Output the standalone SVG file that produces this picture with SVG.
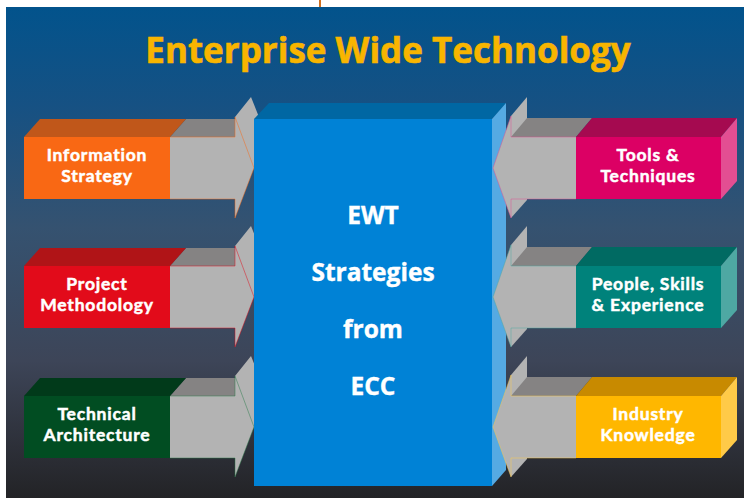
<svg xmlns="http://www.w3.org/2000/svg" width="744" height="498" viewBox="0 0 744 498">
<defs>
<linearGradient id="bg" x1="0" y1="0" x2="0" y2="1">
<stop offset="0" stop-color="#02538c"/>
<stop offset="0.2" stop-color="#165183"/>
<stop offset="0.45" stop-color="#355270"/>
<stop offset="0.72" stop-color="#3d4558"/>
<stop offset="1" stop-color="#232326"/>
</linearGradient>
</defs>
<style>
.title{font-family:"Open Sans","DejaVu Sans",sans-serif;font-weight:700;font-size:35px;fill:#f8b500;stroke:#f8b500;stroke-width:0.6}
.lbl{font-family:Lato,"Open Sans",sans-serif;font-weight:700;font-size:17.5px;letter-spacing:0.8px;fill:#ffffff;stroke:#ffffff;stroke-width:0.5;text-anchor:middle}
.ctr{font-family:"Open Sans","DejaVu Sans",sans-serif;font-weight:700;font-size:24.5px;fill:#ffffff;stroke:#ffffff;stroke-width:0.4;text-anchor:middle}
.gf{fill:#b3b3b3}
.gt{fill:#858383}
.edge{fill:none;stroke-width:0.8;opacity:0.6}
</style>
<rect x="0" y="0" width="744" height="498" fill="#ffffff"/>
<rect x="6" y="7" width="738" height="491" fill="url(#bg)"/>
<line x1="320" y1="0" x2="320" y2="7" stroke="#d07020" stroke-width="2"/>
<text class="title" x="388" y="63" text-anchor="middle">Enterprise Wide Technology</text>

<g id="connectors">
<g id="arrow-info">
<polygon class="gt" points="170,137 186,119 240,119 235,137"/>
<rect class="gf" x="170" y="137" width="66" height="62"/>
<polygon class="gf" points="235,117 251,97 272,150 254,168 235,218"/>
<polyline class="edge" stroke="#f96814" points="170,137 235,137 235,117 254,168 235,218 235,199 170,199"/>
</g>
<g id="arrow-proj">
<polygon class="gt" points="170,266 186,248 240,248 235,266"/>
<rect class="gf" x="170" y="266" width="66" height="62"/>
<polygon class="gf" points="235,246 251,226 272,279 254,297 235,347"/>
<polyline class="edge" stroke="#e20b1a" points="170,266 235,266 235,246 254,297 235,347 235,328 170,328"/>
</g>
<g id="arrow-tech">
<polygon class="gt" points="170,396 186,378 240,378 235,396"/>
<rect class="gf" x="170" y="396" width="66" height="62"/>
<polygon class="gf" points="235,376 251,356 272,409 254,427 235,477"/>
<polyline class="edge" stroke="#2a7a4a" points="170,396 235,396 235,376 254,427 235,477 235,458 170,458"/>
</g>
</g>

<g id="node-center">
<polygon fill="#0067a3" points="254,119 269,103 506,103 492,119"/>
<polygon fill="#55aae3" points="492,119 506,103 506,470 492,486"/>
<rect x="254" y="119" width="238" height="367" fill="#0082d6"/>
<text class="ctr" x="373" y="224">EWT</text>
<text class="ctr" x="373" y="281">Strategies</text>
<text class="ctr" x="373" y="338">from</text>
<text class="ctr" x="373" y="395">ECC</text>
</g>

<g id="connectors-right">
<g id="arrow-tools">
<polygon class="gf" points="527,97 511,116 493,168 511,218 527,200 527,118"/>
<polygon class="gt" points="511,137 527,118 592,118 576,137"/>
<rect class="gf" x="511" y="137" width="66" height="62"/>
<polyline class="edge" stroke="#e24f92" points="576,137 511,137 511,116 493,168 511,218 511,199 576,199"/>
</g>
<g id="arrow-people">
<polygon class="gf" points="527,226 511,245 493,297 511,347 527,329 527,247"/>
<polygon class="gt" points="511,266 527,247 592,247 576,266"/>
<rect class="gf" x="511" y="266" width="66" height="62"/>
<polyline class="edge" stroke="#4ea8a3" points="576,266 511,266 511,245 493,297 511,347 511,328 576,328"/>
</g>
<g id="arrow-industry">
<polygon class="gf" points="527,356 511,375 493,427 511,477 527,459 527,377"/>
<polygon class="gt" points="511,396 527,377 592,377 576,396"/>
<rect class="gf" x="511" y="396" width="66" height="62"/>
<polyline class="edge" stroke="#ffca48" points="576,396 511,396 511,375 493,427 511,477 511,458 576,458"/>
</g>
</g>

<g id="node-info">
<polygon fill="#c0571a" points="24,137 40,119 186,119 170,137"/>
<rect x="24" y="137" width="146" height="62" fill="#f96814"/>
<text class="lbl" x="97" y="161">Information</text>
<text class="lbl" x="97" y="182">Strategy</text>
</g>
<g id="node-proj">
<polygon fill="#b01417" points="24,266 40,248 186,248 170,266"/>
<rect x="24" y="266" width="146" height="62" fill="#e20b1a"/>
<text class="lbl" x="97" y="290">Project</text>
<text class="lbl" x="97" y="311">Methodology</text>
</g>
<g id="node-tech">
<polygon fill="#013a1a" points="24,396 40,378 186,378 170,396"/>
<rect x="24" y="396" width="146" height="62" fill="#014d22"/>
<text class="lbl" x="97" y="420">Technical</text>
<text class="lbl" x="97" y="441">Architecture</text>
</g>
<g id="node-tools">
<polygon fill="#a50a50" points="576,137 592,118 737,118 721,137"/>
<polygon fill="#e34e92" points="721,137 737,118 737,181 721,199"/>
<rect x="576" y="137" width="145" height="62" fill="#dc0064"/>
<text class="lbl" x="648" y="161">Tools &amp;</text>
<text class="lbl" x="648" y="182">Techniques</text>
</g>
<g id="node-people">
<polygon fill="#006a62" points="576,266 592,247 737,247 721,266"/>
<polygon fill="#4ea8a3" points="721,266 737,247 737,310 721,328"/>
<rect x="576" y="266" width="145" height="62" fill="#00827b"/>
<text class="lbl" x="648" y="290">People, Skills</text>
<text class="lbl" x="648" y="311">&amp; Experience</text>
</g>
<g id="node-industry">
<polygon fill="#c88a00" points="576,396 592,377 737,377 721,396"/>
<polygon fill="#ffca48" points="721,396 737,377 737,440 721,458"/>
<rect x="576" y="396" width="145" height="62" fill="#ffb700"/>
<text class="lbl" x="648" y="420">Industry</text>
<text class="lbl" x="648" y="441">Knowledge</text>
</g>
</svg>
